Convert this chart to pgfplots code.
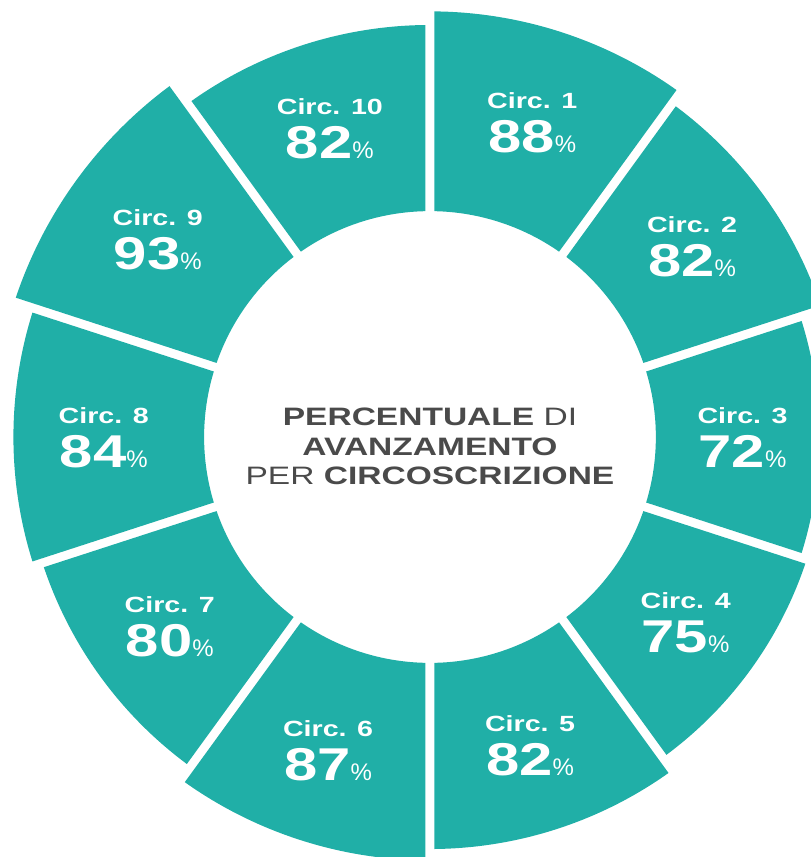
\documentclass[border=0pt]{standalone}
\usepackage{pgfplots}
\pgfplotsset{compat=1.18}
\usepackage{pgfplotstable}
\usepackage{graphicx}
\usepackage{fontspec}
\setmainfont{Liberation Sans}

\definecolor{tealc}{HTML}{20AFA7}
\definecolor{txtgray}{HTML}{4A4A4A}

% percentuale di avanzamento per circoscrizione
% angle = centre of each 36 degree sector
\pgfplotstableread{
circ angle value
1 72 88
2 36 82
3 0 72
4 -36 75
5 -72 82
6 -108 87
7 -144 80
8 -180 84
9 144 93
10 108 82
}\circdata

\newcommand{\wide}[1]{\scalebox{1.3}[1]{#1}}

\begin{document}
\begin{tikzpicture}
\begin{axis}[
    x=1.135pt, y=1.135pt,
    xmin=-189.4, xmax=167.8,
    ymin=-185.0, ymax=192.5,
    hide axis,
]
% bar tips: inner radius 99.5, bar length = value
\addplot[draw=none, mark=none] table[
    x expr={(\thisrow{value}+99.5)*cos(\thisrow{angle})},
    y expr={(\thisrow{value}+99.5)*sin(\thisrow{angle})},
]{\circdata};
\coordinate (O) at (axis cs:0,0);
\end{axis}

% one annular sector per row, 1 unit = 1.135pt, gaps of 4.5pt
\foreach \i in {0,...,9} {
    \pgfplotstablegetelem{\i}{value}\of\circdata \let\v\pgfplotsretval
    \pgfplotstablegetelem{\i}{angle}\of\circdata \let\a\pgfplotsretval
    \pgfplotstablegetelem{\i}{circ}\of\circdata \let\c\pgfplotsretval
    \pgfmathsetmacro\Rin{99.5*1.135}
    \pgfmathsetmacro\Rout{(99.5+\v)*1.135}
    \pgfmathsetmacro\din{asin(2.25/\Rin)}
    \pgfmathsetmacro\dout{asin(2.25/\Rout)}
    \pgfmathsetmacro\sIn{\a-18+\din}
    \pgfmathsetmacro\eIn{\a+18-\din}
    \pgfmathsetmacro\sOut{\a-18+\dout}
    \pgfmathsetmacro\eOut{\a+18-\dout}
    \pgfmathsetmacro\Rlab{(\Rin+\Rout)/2+2.5}
    \fill[tealc] ([shift={(\sIn:\Rin pt)}]O) -- ([shift={(\sOut:\Rout pt)}]O)
        arc[start angle=\sOut, end angle=\eOut, radius=\Rout pt]
        -- ([shift={(\eIn:\Rin pt)}]O)
        arc[start angle=\eIn, end angle=\sIn, radius=\Rin pt] -- cycle;
    \node[text=white, anchor=base, inner sep=0pt] at ([shift={(\a:\Rlab pt)}, yshift=7pt]O)
        {\wide{\fontsize{11}{11}\selectfont\bfseries Circ. \c}};
    \node[text=white, anchor=base, inner sep=0pt] at ([shift={(\a:\Rlab pt)}, yshift=-15pt]O)
        {\wide{\fontsize{23}{23}\selectfont\bfseries\v}{\fontsize{12}{12}\selectfont\%}};
}

\node[txtgray, align=center, font=\fontsize{12.6}{14.75}\selectfont] at ([yshift=-4.75pt]O)
    {\scalebox{1.33}[1]{\textbf{PERCENTUALE} DI}\\
     \scalebox{1.33}[1]{\textbf{AVANZAMENTO}}\\
     \scalebox{1.33}[1]{PER \textbf{CIRCOSCRIZIONE}}};

\pgfresetboundingbox
\path[use as bounding box] (current axis.south west) rectangle (current axis.north east);
\end{tikzpicture}
\end{document}
